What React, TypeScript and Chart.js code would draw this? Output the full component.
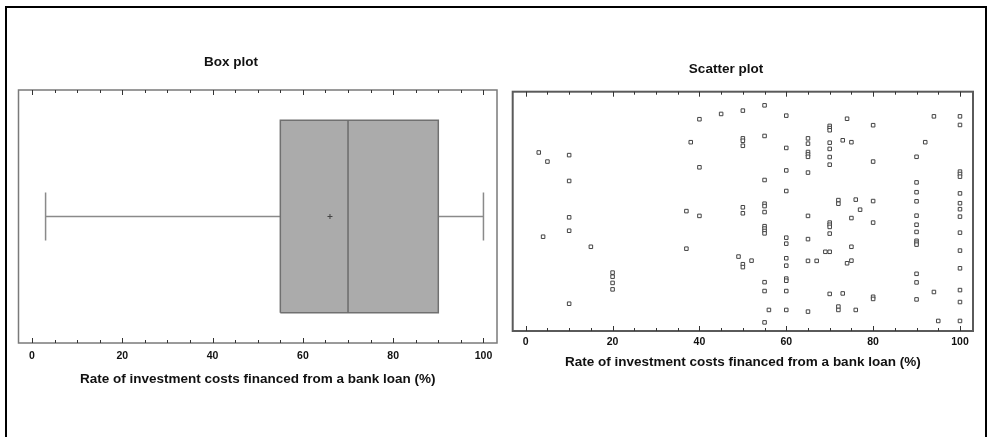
import React, { useEffect, useRef } from "react";
import { Chart, registerables } from "chart.js";
Chart.register(...registerables);

const BOX_TITLE = "Box plot";
const SCATTER_TITLE = "Scatter plot";
const AXIS_TITLE = "Rate of investment costs financed from a bank loan (%)";

const axisMin = -3;
const axisMax = 103;
const tickStep = 5;
const labelStep = 20;

// box plot statistics
const boxMin = 3;
const boxQ1 = 55;
const boxMedian = 70;
const boxQ3 = 90;
const boxMax = 100;
const boxMean = 66;

// scatter plot (x = rate, y = jitter position 0..100)
const scatterX = [
  3, 5, 4,
  10, 10, 10, 10, 10,
  15,
  20, 20, 20, 20,
  37, 37,
  38,
  40, 40, 40,
  45,
  49,
  50, 50, 50, 50, 50, 50, 50, 50,
  52,
  55, 55, 55, 55, 55, 55, 55, 55, 55, 55, 55, 55, 55,
  56,
  60, 60, 60, 60, 60, 60, 60, 60, 60, 60, 60, 60,
  65, 65, 65, 65, 65, 65, 65, 65, 65, 65,
  67,
  69,
  70, 70, 70, 70, 70, 70, 70, 70, 70, 70, 70, 70, 70,
  72, 72, 72, 72,
  73, 73,
  74, 74,
  75, 75, 75, 75,
  76, 76,
  77,
  80, 80, 80, 80, 80, 80,
  90, 90, 90, 90, 90, 90, 90, 90, 90, 90, 90, 90, 90,
  92,
  94, 94,
  95,
  100, 100, 100, 100, 100, 100, 100, 100, 100, 100, 100, 100, 100, 100, 100,
];
const scatterY = [
  74.6, 70.8, 39.4,
  73.5, 62.7, 47.5, 41.9, 11.4,
  35.2,
  24.4, 22.7, 20.1, 17.4,
  50.1, 34.4,
  78.9,
  88.5, 68.4, 48.1,
  90.7,
  31.1,
  92.1, 80.5, 79.5, 77.4, 51.7, 49.2, 27.9, 26.7,
  29.4,
  94.3, 81.5, 63.1, 53.2, 52.2, 49.7, 43.8, 42.8, 41.8, 40.8, 20.4, 16.7, 3.6,
  8.8,
  90.0, 76.5, 67.1, 58.5, 39.0, 36.5, 30.4, 27.3, 21.9, 21.0, 16.7, 8.8,
  80.5, 78.3, 74.8, 73.8, 72.8, 66.2, 48.1, 38.4, 29.3, 8.1,
  29.3,
  33.1,
  85.7, 84.8, 83.9, 78.7, 76.1, 72.7, 69.5, 45.3, 44.4, 43.5, 40.7, 33.1, 15.5,
  54.7, 53.2, 10.2, 8.8,
  79.7, 15.7,
  88.7, 28.3,
  78.9, 47.2, 35.2, 29.4,
  54.9, 8.8,
  50.7,
  86.0, 70.8, 54.3, 45.3, 14.3, 13.4,
  72.8, 62.1, 58.0, 54.2, 48.2, 44.4, 41.4, 37.7, 36.9, 36.1, 23.9, 20.3, 13.2,
  78.9,
  89.7, 16.3,
  4.2,
  89.7, 86.1, 66.6, 65.6, 64.5, 57.5, 53.4, 50.9, 47.8, 41.1, 33.6, 26.2, 17.1, 12.1, 4.2,
];

const FONT = "'Liberation Sans', Arial, sans-serif";
const TEXT = "#111";
const TITLE_SIZE = 13.5;
const TICK_SIZE = 10.5;

function frameTicksPlugin(frameColor: string, frameWidth: number) {
  return {
    id: "frameTicks",
    afterDatasetsDraw(chart: any) {
      const { ctx, chartArea: a, scales } = chart;
      const x = scales.x;
      ctx.save();
      ctx.strokeStyle = frameColor;
      ctx.lineWidth = frameWidth;
      ctx.strokeRect(a.left, a.top, a.right - a.left, a.bottom - a.top);
      ctx.strokeStyle = "#333";
      ctx.lineWidth = 1;
      x.ticks.forEach((t: any) => {
        if (t.value < axisMin || t.value > axisMax) return;
        const px = Math.round(x.getPixelForValue(t.value)) + 0.5;
        const len = t.value % labelStep === 0 ? 5 : 3;
        ctx.beginPath();
        ctx.moveTo(px, a.bottom);
        ctx.lineTo(px, a.bottom - len);
        ctx.moveTo(px, a.top);
        ctx.lineTo(px, a.top + len);
        ctx.stroke();
      });
      ctx.restore();
    },
  };
}

function xScale(tickPad: number, titlePadTop: number) {
  return {
    type: "linear",
    min: axisMin,
    max: axisMax,
    grid: { display: false, drawTicks: false },
    border: { display: false },
    ticks: {
      stepSize: tickStep,
      includeBounds: false,
      autoSkip: false,
      maxRotation: 0,
      padding: tickPad,
      color: TEXT,
      font: { family: FONT, size: TICK_SIZE, weight: "bold" },
      callback: (v: any) => (Number(v) % labelStep === 0 ? String(v) : ""),
    },
    title: {
      display: true,
      text: AXIS_TITLE,
      color: TEXT,
      font: { family: FONT, size: TITLE_SIZE, weight: "bold" },
      padding: { top: titlePadTop, bottom: 0 },
    },
  };
}

function yScale(min: number, max: number, w: number) {
  return {
    type: "linear",
    display: true,
    min,
    max,
    grid: { display: false, drawTicks: false },
    border: { display: false },
    ticks: { display: false },
    afterFit: (s: any) => {
      s.width = w;
    },
  };
}

function boxConfig(): any {
  const lo = 0.12, hi = 0.88, cLo = 0.405, cHi = 0.595, mid = 0.5;
  const line = (data: any[], color: string, width: number) => ({
    type: "line",
    data,
    borderColor: color,
    borderWidth: width,
    pointRadius: 0,
    fill: false,
    tension: 0,
    order: 0,
  });
  return {
    type: "scatter",
    data: {
      datasets: [
        {
          type: "scatter",
          data: [{ x: boxMean, y: mid }],
          pointStyle: "cross",
          pointRadius: 2.5,
          borderColor: "#444",
          borderWidth: 1,
          order: 0,
        },
        line([{ x: boxMedian, y: lo }, { x: boxMedian, y: hi }], "#6b6b6b", 1.5),
        line([{ x: boxQ1, y: lo }, { x: boxQ3, y: lo }, { x: boxQ3, y: hi }, { x: boxQ1, y: hi }, { x: boxQ1, y: lo }], "#707070", 1.5),
        line([{ x: boxMin, y: mid }, { x: boxQ1, y: mid }], "#8a8a8a", 1.5),
        line([{ x: boxQ3, y: mid }, { x: boxMax, y: mid }], "#8a8a8a", 1.5),
        line([{ x: boxMin, y: cLo }, { x: boxMin, y: cHi }], "#8a8a8a", 1.5),
        line([{ x: boxMax, y: cLo }, { x: boxMax, y: cHi }], "#8a8a8a", 1.5),
        {
          type: "line",
          data: [{ x: boxQ1, y: hi }, { x: boxQ3, y: hi }],
          borderWidth: 0,
          pointRadius: 0,
          backgroundColor: "#ababab",
          fill: { target: { value: lo } },
          order: 10,
        },
      ],
    },
    options: {
      animation: false,
      responsive: false,
      events: [],
      layout: { padding: { left: 0, right: 5, top: 0, bottom: 49.9 } },
      plugins: {
        legend: { display: false },
        tooltip: { enabled: false },
        title: {
          display: true,
          text: BOX_TITLE,
          color: TEXT,
          font: { family: FONT, size: TITLE_SIZE, weight: "bold" },
          padding: { top: 53.9, bottom: 19.9 },
        },
      },
      scales: {
        x: xScale(6.7, 1.9),
        y: yScale(0, 1, 53.5),
      },
    },
    plugins: [frameTicksPlugin("#7a7a7a", 1.5)],
  };
}

function scatterConfig(): any {
  return {
    type: "scatter",
    data: {
      datasets: [
        {
          data: scatterX.map((x, i) => ({ x, y: scatterY[i] })),
          pointStyle: "rect",
          pointRadius: 2.5,
          borderWidth: 1,
          borderColor: "#444",
          backgroundColor: "#ffffff",
        },
      ],
    },
    options: {
      animation: false,
      responsive: false,
      events: [],
      layout: { padding: { left: 0, right: 10, top: 0, bottom: 66.9 } },
      plugins: {
        legend: { display: false },
        tooltip: { enabled: false },
        title: {
          display: true,
          text: SCATTER_TITLE,
          color: TEXT,
          font: { family: FONT, size: TITLE_SIZE, weight: "bold" },
          padding: { top: 60.9, bottom: 14.6 },
        },
      },
      scales: {
        x: xScale(5, 0.3),
        y: yScale(0, 100, 33.7),
      },
    },
    plugins: [frameTicksPlugin("#5a5a5a", 2)],
  };
}

export default function App() {
  const boxRef = useRef<HTMLCanvasElement>(null);
  const scRef = useRef<HTMLCanvasElement>(null);
  useEffect(() => {
    const c1 = new Chart(boxRef.current as HTMLCanvasElement, boxConfig());
    const c2 = new Chart(scRef.current as HTMLCanvasElement, scatterConfig());
    return () => {
      c1.destroy();
      c2.destroy();
    };
  }, []);
  return (
    <div
      style={{
        position: "fixed",
        left: 0,
        top: 0,
        width: 989,
        height: 437,
        background: "#fff",
        overflow: "hidden",
      }}
    >
      <div
        style={{
          position: "absolute",
          left: 5,
          top: 6,
          width: 982,
          height: 470,
          borderTop: "2px solid #000",
          borderLeft: "2px solid #000",
          borderRight: "2px solid #000",
          boxSizing: "border-box",
        }}
      />
      <canvas
        ref={boxRef}
        width={537}
        height={437}
        style={{ position: "absolute", left: -35, top: 0, width: 537, height: 437 }}
      />
      <canvas
        ref={scRef}
        width={504}
        height={437}
        style={{ position: "absolute", left: 479, top: 0, width: 504, height: 437 }}
      />
    </div>
  );
}
